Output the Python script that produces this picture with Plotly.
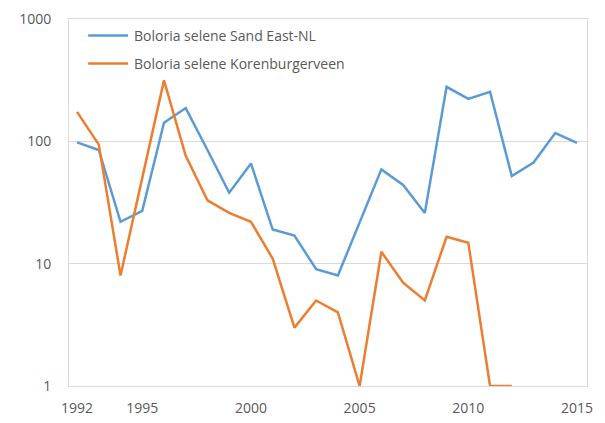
import plotly.graph_objects as go

# Yearly counts (log scale)
years = list(range(1992, 2016))
sand_east = [98, 85, 22, 27, 142, 187, 85, 38, 66, 19, 17, 9, 8, 22, 59, 44, 26, 279, 222, 254, 52, 67, 117, 97]
koren_years = list(range(1992, 2013))
korenburgerveen = [174, 94, 8, 50, 315, 76, 33, 26, 22, 11, 3, 5, 4, 1, 12.5, 7, 5, 16.6, 14.8, 1, 1]

series_names = ["Boloria selene Sand East-NL", "Boloria selene Korenburgerveen"]
series_colors = ["#5B9BD5", "#ED7D31"]

x_ticks = [1992, 1995, 2000, 2005, 2010, 2015]
y_ticks = [1, 10, 100, 1000]

font_family = "'Open Sans', Lato, sans-serif"
text_grey = "#595959"
grid_grey = "#D9D9D9"

fig = go.Figure()
fig.add_trace(go.Scatter(
    x=years, y=sand_east, mode="lines", name=series_names[0],
    line=dict(color=series_colors[0], width=2.5), showlegend=False,
))
fig.add_trace(go.Scatter(
    x=koren_years, y=korenburgerveen, mode="lines", name=series_names[1],
    line=dict(color=series_colors[1], width=2.5), showlegend=False,
))

# Legend drawn inside the plot area (paper coordinates)
legend_rows_y = [0.955, 0.879]
for name, color, ly in zip(series_names, series_colors, legend_rows_y):
    fig.add_shape(type="line", xref="paper", yref="paper",
                  x0=0.037, x1=0.114, y0=ly, y1=ly,
                  line=dict(color=color, width=2.5))
    fig.add_annotation(xref="paper", yref="paper", x=0.122, y=ly,
                       text=name, showarrow=False, xanchor="left", yanchor="middle",
                       font=dict(family=font_family, size=14, color=text_grey))

fig.update_layout(
    width=605, height=423,
    margin=dict(l=69, r=18, t=19, b=37),
    paper_bgcolor="white", plot_bgcolor="white",
    font=dict(family=font_family, size=14, color=text_grey),
    showlegend=False,
)
fig.update_xaxes(
    range=[1991.63, 2015.46], tickvals=x_ticks, ticktext=[str(t) for t in x_ticks],
    showgrid=False, zeroline=False, showline=True, linecolor=grid_grey, linewidth=1,
    mirror=True, ticks="", ticklabelstandoff=9, automargin=False,
    tickfont=dict(size=14, color=text_grey),
)
fig.update_yaxes(
    type="log", range=[0, 3], tickvals=y_ticks, ticktext=[str(t) for t in y_ticks],
    showgrid=True, gridcolor=grid_grey, gridwidth=1, zeroline=False,
    showline=True, linecolor=grid_grey, linewidth=1, mirror=True, ticks="",
    ticklabelstandoff=14, automargin=False, tickfont=dict(size=14, color=text_grey),
)

fig.write_html("out.html")
